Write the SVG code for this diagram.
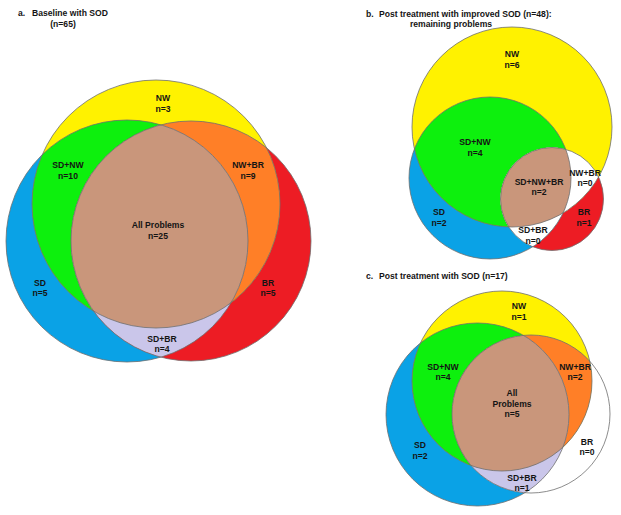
<svg xmlns="http://www.w3.org/2000/svg" width="621" height="515" viewBox="0 0 621 515">
<style>
text{font-family:"Liberation Sans",Arial,sans-serif;font-weight:bold;font-size:8.6px;fill:#141414;text-anchor:middle}
.title{text-anchor:start}
.ol{fill:none;stroke:#6e6e6e;stroke-width:0.8}
.sd{fill:#0aa2e6}.nw{fill:#fff200}.br{fill:#ed1c24}.g{fill:#0df00d}.o{fill:#ff7f27}.lv{fill:#cac6ea}.bn{fill:#c9967b}.w{fill:#fff}
</style>
<defs>
<clipPath id="aSD"><circle cx="127" cy="241" r="121"/></clipPath>
<clipPath id="aBR"><circle cx="191" cy="241" r="120"/></clipPath>
<clipPath id="aNW"><circle cx="156" cy="204" r="124"/></clipPath>
<clipPath id="bSD"><circle cx="490" cy="178" r="81"/></clipPath>
<clipPath id="bBR"><circle cx="552" cy="199" r="51.5"/></clipPath>
<clipPath id="bNW"><circle cx="512" cy="127" r="100"/></clipPath>
<clipPath id="cSD"><circle cx="477.5" cy="414.5" r="91.5"/></clipPath>
<clipPath id="cBR"><circle cx="531" cy="414" r="79"/></clipPath>
<clipPath id="cNW"><circle cx="502" cy="381" r="90"/></clipPath>
</defs>

<g id="panel-a">
<text class="title" x="18" y="16">a.<tspan x="32">Baseline with SOD</tspan></text>
<text x="63" y="27">(n=65)</text>
<g id="a-SD"><circle class="sd" cx="127" cy="241" r="121"/></g>
<g id="a-BR"><circle class="br" cx="191" cy="241" r="120"/></g>
<g id="a-NW"><circle class="nw" cx="156" cy="204" r="124"/></g>
<g id="a-SDNW"><circle class="g" cx="156" cy="204" r="124" clip-path="url(#aSD)"/></g>
<g id="a-NWBR"><circle class="o" cx="156" cy="204" r="124" clip-path="url(#aBR)"/></g>
<g id="a-SDBR"><circle class="lv" cx="127" cy="241" r="121" clip-path="url(#aBR)"/></g>
<g id="a-ALL" clip-path="url(#aBR)"><circle class="bn" cx="156" cy="204" r="124" clip-path="url(#aSD)"/></g>
<g id="a-outlines">
<circle class="ol" cx="127" cy="241" r="121"/>
<circle class="ol" cx="191" cy="241" r="120"/>
<circle class="ol" cx="156" cy="204" r="124"/>
</g>
<text x="163" y="101">NW</text><text x="163" y="112">n=3</text>
<text x="68" y="168">SD+NW</text><text x="68" y="179">n=10</text>
<text x="248" y="168">NW+BR</text><text x="248" y="179">n=9</text>
<text x="158" y="228">All Problems</text><text x="158" y="239">n=25</text>
<text x="40" y="286">SD</text><text x="40" y="296">n=5</text>
<text x="268" y="286">BR</text><text x="268" y="296">n=5</text>
<text x="162" y="342">SD+BR</text><text x="162" y="352">n=4</text>
</g>

<g id="panel-b">
<text class="title" x="366" y="17">b.<tspan x="379">Post treatment with improved SOD (n=48):</tspan></text>
<text x="451" y="27">remaining problems</text>
<g id="b-BR"><circle class="br" cx="552" cy="199" r="51.5"/></g>
<g id="b-SD"><circle class="sd" cx="490" cy="178" r="81"/></g>
<g id="b-NW"><circle class="nw" cx="512" cy="127" r="100"/></g>
<g id="b-SDNW"><circle class="g" cx="512" cy="127" r="100" clip-path="url(#bSD)"/></g>
<g id="b-NWBR"><circle class="w" cx="552" cy="199" r="51.5" clip-path="url(#bNW)"/></g>
<g id="b-SDBR"><circle class="w" cx="552" cy="199" r="51.5" clip-path="url(#bSD)"/></g>
<g id="b-ALL" clip-path="url(#bBR)"><circle class="bn" cx="512" cy="127" r="100" clip-path="url(#bSD)"/></g>
<g id="b-outlines">
<circle class="ol" cx="552" cy="199" r="51.5"/>
<circle class="ol" cx="490" cy="178" r="81"/>
<circle class="ol" cx="512" cy="127" r="100"/>
</g>
<text x="512" y="57">NW</text><text x="512" y="68">n=6</text>
<text x="475" y="145">SD+NW</text><text x="475" y="156">n=4</text>
<text x="539" y="185">SD+NW+BR</text><text x="539" y="195">n=2</text>
<text x="585" y="176">NW+BR</text><text x="585" y="186">n=0</text>
<text x="439" y="215">SD</text><text x="439" y="226">n=2</text>
<text x="584" y="215">BR</text><text x="584" y="226">n=1</text>
<text x="533" y="233">SD+BR</text><text x="533" y="244">n=0</text>
</g>

<g id="panel-c">
<text class="title" x="366" y="279">c.<tspan x="379">Post treatment with SOD (n=17)</tspan></text>
<g id="c-SD"><circle class="sd" cx="477.5" cy="414.5" r="91.5"/></g>
<g id="c-BR"><circle class="w" cx="531" cy="414" r="79"/></g>
<g id="c-NW"><circle class="nw" cx="502" cy="381" r="90"/></g>
<g id="c-SDNW"><circle class="g" cx="502" cy="381" r="90" clip-path="url(#cSD)"/></g>
<g id="c-NWBR"><circle class="o" cx="502" cy="381" r="90" clip-path="url(#cBR)"/></g>
<g id="c-SDBR"><circle class="lv" cx="477.5" cy="414.5" r="91.5" clip-path="url(#cBR)"/></g>
<g id="c-ALL" clip-path="url(#cBR)"><circle class="bn" cx="502" cy="381" r="90" clip-path="url(#cSD)"/></g>
<g id="c-outlines">
<circle class="ol" cx="477.5" cy="414.5" r="91.5"/>
<circle class="ol" cx="531" cy="414" r="79"/>
<circle class="ol" cx="502" cy="381" r="90"/>
</g>
<text x="519" y="309">NW</text><text x="519" y="320">n=1</text>
<text x="443" y="370">SD+NW</text><text x="443" y="380">n=4</text>
<text x="575" y="370">NW+BR</text><text x="575" y="380">n=2</text>
<text x="512" y="396">All</text><text x="512" y="407">Problems</text><text x="512" y="417">n=5</text>
<text x="420" y="448">SD</text><text x="420" y="459">n=2</text>
<text x="587" y="445">BR</text><text x="587" y="455">n=0</text>
<text x="522" y="481">SD+BR</text><text x="522" y="491">n=1</text>
</g>
</svg>
